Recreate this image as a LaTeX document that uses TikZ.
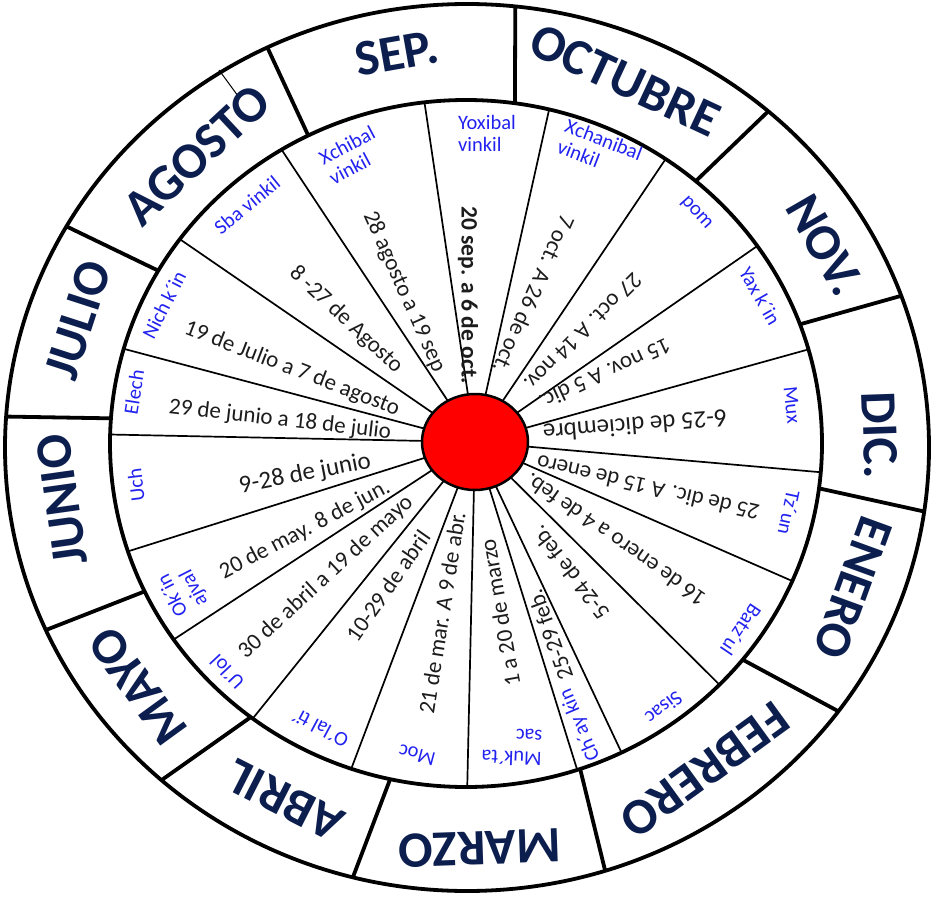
\documentclass[tikz,border=0pt]{standalone}
\usepackage{fontspec}
\setmainfont{Carlito}
\definecolor{mnavy}{HTML}{0B1E4E}
\definecolor{hblue}{HTML}{2222F0}
\definecolor{dgray}{HTML}{1C1C1C}
\usetikzlibrary{shapes.geometric}

\begin{document}
\begin{tikzpicture}[
  x=1pt, y=-1pt,
  ring/.style={line width=3.8pt},
  divider/.style={line width=3.8pt},
  spoke/.style={line width=1.7pt},
  hub/.style={ellipse, draw, line width=2.5pt, fill=red,
    minimum width=106pt, minimum height=96pt},
  month/.style={font=\fontsize{51}{51}\selectfont\bfseries,
    text=mnavy, inner sep=0pt},
  haab/.style={font=\fontsize{20.5}{22}\selectfont, text=hblue,
    align=left, inner sep=0pt},
  date/.style={font=\fontsize{23}{24}\selectfont, text=dgray,
    inner sep=0pt}
]
  \useasboundingbox (0,0) rectangle (933,901);

  % rings
  \draw[ring] (467,447.5) ellipse [x radius=462, y radius=443.5];
  \draw[ring] (466,443.5) ellipse [x radius=356, y radius=343.5];

  % month dividers (outer angle / inner angle)
  \foreach \a/\b in {115.6/116.3, 150.1/149.8, 176/175.8, 204.3/205.5,
      228.6/232.8, 255.7/257.7, 287.4/288.7, 323.5/321, 351.7/352.5,
      20/20.3, 49.3/49.8, 84/82.1}
    \draw[divider] ({467+462*cos(\a)},{447.5-443.5*sin(\a)})
      -- ({466+356*cos(\b)},{443.5-343.5*sin(\b)});
  \draw[line width=1pt] (219,70) -- (238,96);

  % spokes
  \coordinate (c) at (475,442);
  \foreach \t in {96.7, 121.2, 143.5, 164, 178.5, 76.5, 55.9, 35.1, 15.9,
      355.2, 336.4, 315.4, 295.9, 288.2, 270.2, 251.2, 233.2, 214.8, 198.3}
    \draw[spoke] (c) -- ({466+356*cos(\t)},{443.5-343.5*sin(\t)});
  \node[hub] (hub) at (c) {};

  % months
  \node[month, rotate=10]   (sep) at (397,53)  {SEP.};
  \node[month, rotate=-25]  (oct) at (625,80)  {OCTUBRE};
  \node[month, rotate=-60]  (nov) at (825,245) {NOV.};
  \node[month, rotate=-88]  (dic) at (880,435) {DIC.};
  \node[month, rotate=-110] (ene) at (853,588) {ENERO};
  \node[month, rotate=-144] (feb) at (705,770) {FEBRERO};
  \node[month, rotate=182]  (mar) at (480,848) {MARZO};
  \node[month, rotate=153]  (abr) at (285,800) {ABRIL};
  \node[month, rotate=126]  (may) at (138,686) {MAYO};
  \node[month, rotate=98]   (jun) at (62,500)  {JUNIO};
  \node[month, rotate=72]   (jul) at (78,320)  {JULIO};
  \node[month, rotate=43]   (ago) at (197,155) {AGOSTO};

  % haab names
  \node[haab, rotate=39]   (sba)  at (247,205) {Sba vinkil};
  \node[haab, rotate=28]   (xchi) at (352,155) {Xchibal\\vinkil};
  \node[haab]              (yox)  at (487,133) {Yoxibal\\vinkil};
  \node[haab, rotate=-21]  (xcha) at (600,150) {Xchanibal\\vinkil};
  \node[haab, rotate=-48]  (pom)  at (696,213) {pom};
  \node[haab, rotate=-60]  (yax)  at (760,296) {Yax k´in};
  \node[haab, rotate=-84]  (mux)  at (792,405) {Mux};
  \node[haab, rotate=-102] (tzun) at (789,513) {Tz´un};
  \node[haab, rotate=-124] (batz) at (741,630) {Batz´ul};
  \node[haab, rotate=-143] (sis)  at (664,708) {Sisac};
  \node[haab, rotate=113]  (chay) at (580,725) {Ch´ay kin};
  \node[haab, rotate=178]  (muk)  at (512,747) {Muk´ta\\sac};
  \node[haab, rotate=165]  (moc)  at (417,755) {Moc};
  \node[haab, rotate=152]  (olal) at (320,728) {O´lal ti´};
  \node[haab, rotate=133]  (ulol) at (227,672) {U´lol};
  \node[haab, rotate=117]  (okin) at (183,590) {Ok´in\\ajval};
  \node[haab, rotate=97]   (uch)  at (136,485) {Uch};
  \node[haab, rotate=81]   (elec) at (134,392) {Elech};
  \node[haab, rotate=63]   (nich) at (164,305) {Nich k´in};

  % dates
  \node[date, rotate=-90, font=\fontsize{23.5}{24}\selectfont\bfseries]
    (d1) at (468,295) {20 sep. a 6 de oct.};
  \node[date, rotate=-66]  (d2)  at (404,292) {28 agosto a 19 sep};
  \node[date, rotate=-43]  (d3)  at (346,320) {8 -27 de Agosto};
  \node[date, rotate=-21]  (d4)  at (292,369) {19 de Julio a 7 de agosto};
  \node[date, rotate=-6.5] (d5)  at (280,420) {29 de junio a 18 de julio};
  \node[date, rotate=11, font=\fontsize{25}{26}\selectfont]
    (d6)  at (305,474) {9-28 de junio};
  \node[date, rotate=27.7] (d7)  at (305,530) {20 de may. 8 de jun.};
  \node[date, rotate=42.8] (d8)  at (326,577) {30 de abril a 19 de mayo};
  \node[date, rotate=55]   (d9)  at (388,586) {10-29 de abril};
  \node[date, rotate=81]   (d10) at (442,613) {21 de mar. A 9 de abr.};
  \node[date, rotate=100]  (d11) at (500,613) {1 a 20 de marzo};
  \node[date, rotate=110]  (d12) at (550,635) {25-29 feb.};
  \node[date, rotate=128]  (d13) at (570,573) {5-24 de feb.};
  \node[date, rotate=145]  (d14) at (615,540) {16 de enero a 4 de feb.};
  \node[date, rotate=167]  (d15) at (648,488) {25 de dic. A 15 de enero};
  \node[date, rotate=184.7, font=\fontsize{25}{26}\selectfont]
    (d16) at (635,426) {6-25 de diciembre};
  \node[date, rotate=204.7] (d17) at (605,374) {15 nov. A 5 dic.};
  \node[date, rotate=225]  (d18) at (583,332) {27 oct. A 14 nov.};
  \node[date, rotate=246]  (d19) at (534,294) {7 oct. A 26 de oct.};
\end{tikzpicture}
\end{document}
